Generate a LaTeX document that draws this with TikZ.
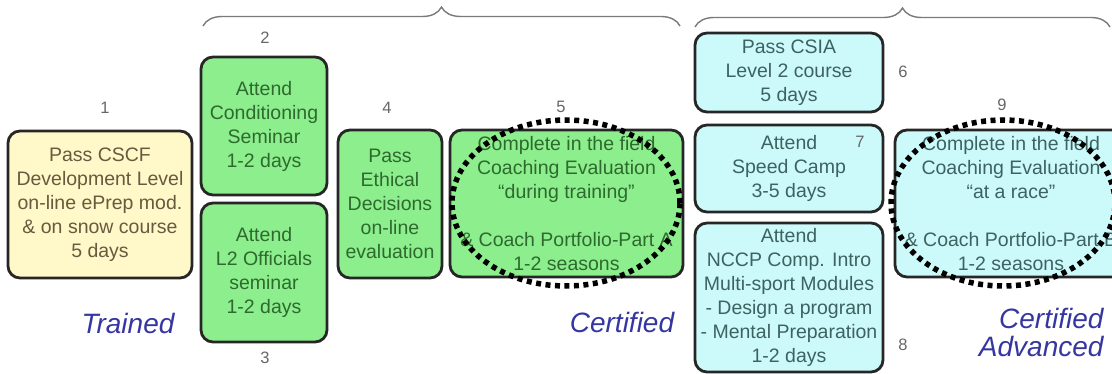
\documentclass[tikz,border=0pt]{standalone}
\usepackage{fontspec}
\setmainfont{Liberation Sans}
\usetikzlibrary{shapes.geometric,decorations.pathreplacing}
\definecolor{boxline}{HTML}{262626}
\definecolor{trainedfill}{HTML}{FFF8C8}
\definecolor{trainedtext}{HTML}{675A3E}
\definecolor{certfill}{HTML}{8CEE8C}
\definecolor{certtext}{HTML}{2E6A2E}
\definecolor{advfill}{HTML}{CCFAFA}
\definecolor{advtext}{HTML}{3E6262}
\definecolor{numgray}{HTML}{666666}
\definecolor{levelblue}{HTML}{3636A0}
\definecolor{bracegray}{HTML}{7A7A7A}

\begin{document}
\begin{tikzpicture}[x=1pt,y=-1pt,
  stage/.style={draw=boxline,line width=2.8pt,rounded corners=12pt,align=center,
    inner sep=0pt,font=\fontsize{19.5}{24}\selectfont},
  trained/.style={stage,fill=trainedfill,text=trainedtext},
  cert/.style={stage,fill=certfill,text=certtext},
  adv/.style={stage,fill=advfill,text=advtext},
  num/.style={text=numgray,font=\fontsize{16.5}{19}\selectfont},
  level/.style={text=levelblue,align=right,font=\fontsize{28}{28}\selectfont\itshape},
  ring/.style={ellipse,draw=black,line width=5.5pt,dash pattern=on 5pt off 4.5pt},
  brace/.style={draw=bracegray,line width=1.4pt,decorate,decoration={brace,amplitude=19pt}}]
 % \draw[help lines,step=50] (0,0) grid (1112,374);
  \useasboundingbox (0,0) rectangle (1112,374);
  \node[trained,minimum width=184,minimum height=147] (box1) at (100,204.5)
    {Pass CSCF\\Development Level\\on-line ePrep mod.\\\& on snow course\\5 days};
  \node[cert,minimum width=126,minimum height=138] (box2) at (264,126)
    {Attend\\Conditioning\\Seminar\\1-2 days};
  \node[cert,minimum width=126,minimum height=139] (box3) at (264,272.5)
    {Attend\\L2 Officials\\seminar\\1-2 days};
  \node[cert,minimum width=104,minimum height=148] (box4) at (390,204)
    {Pass\\Ethical\\Decisions\\on-line\\evaluation};
  \node[cert,minimum width=233,minimum height=147] (box5) at (566.5,203.5)
    {Complete in the field\\Coaching Evaluation\\``during training''\\[24pt]\& Coach Portfolio-Part A\\1-2 seasons};
  \node[adv,minimum width=188,minimum height=79] (box6) at (789,72.5)
    {Pass CSIA\\Level 2 course\\5 days};
  \node[adv,minimum width=188,minimum height=87] (box7) at (789,168.5)
    {Attend\\Speed Camp\\3-5 days};
  \node[adv,minimum width=188,minimum height=149] (box8) at (789,297.5)
    {Attend\\NCCP Comp. Intro\\Multi-sport Modules\\- Design a program\\- Mental Preparation\\1-2 days};
  \node[adv,minimum width=232,minimum height=147] (box9) at (1011,203.5)
    {Complete in the field\\Coaching Evaluation\\``at a race''\\[24pt]\& Coach Portfolio-Part B\\1-2 seasons};

  \node[ring,minimum width=228,minimum height=166] (ring5) at (566,203) {};
  \node[ring,minimum width=224,minimum height=166] (ring9) at (1003,203) {};

  \node[num] (n1) at (105,108) {1};
  \node[num] (n2) at (265,38) {2};
  \node[num] (n3) at (265,358) {3};
  \node[num] (n4) at (387,108) {4};
  \node[num] (n5) at (561,107) {5};
  \node[num] (n6) at (903,72) {6};
  \node[num] (n7) at (860,142) {7};
  \node[num] (n8) at (903,345) {8};
  \node[num] (n9) at (1002,105) {9};

  \node[level] (trained) at (128,323) {Trained};
  \node[level] (certified) at (622,322) {Certified};
  \node[level,anchor=east] (advanced) at (1107,332) {Certified\\Advanced};

  \coordinate (b1l) at (203,26);
  \coordinate (b1r) at (680,26);
  \coordinate (b2l) at (695,27);
  \coordinate (b2r) at (1110,27);
  \draw[brace] (b1l) -- (b1r);
  \draw[brace] (b2l) -- (b2r);
\end{tikzpicture}
\end{document}
